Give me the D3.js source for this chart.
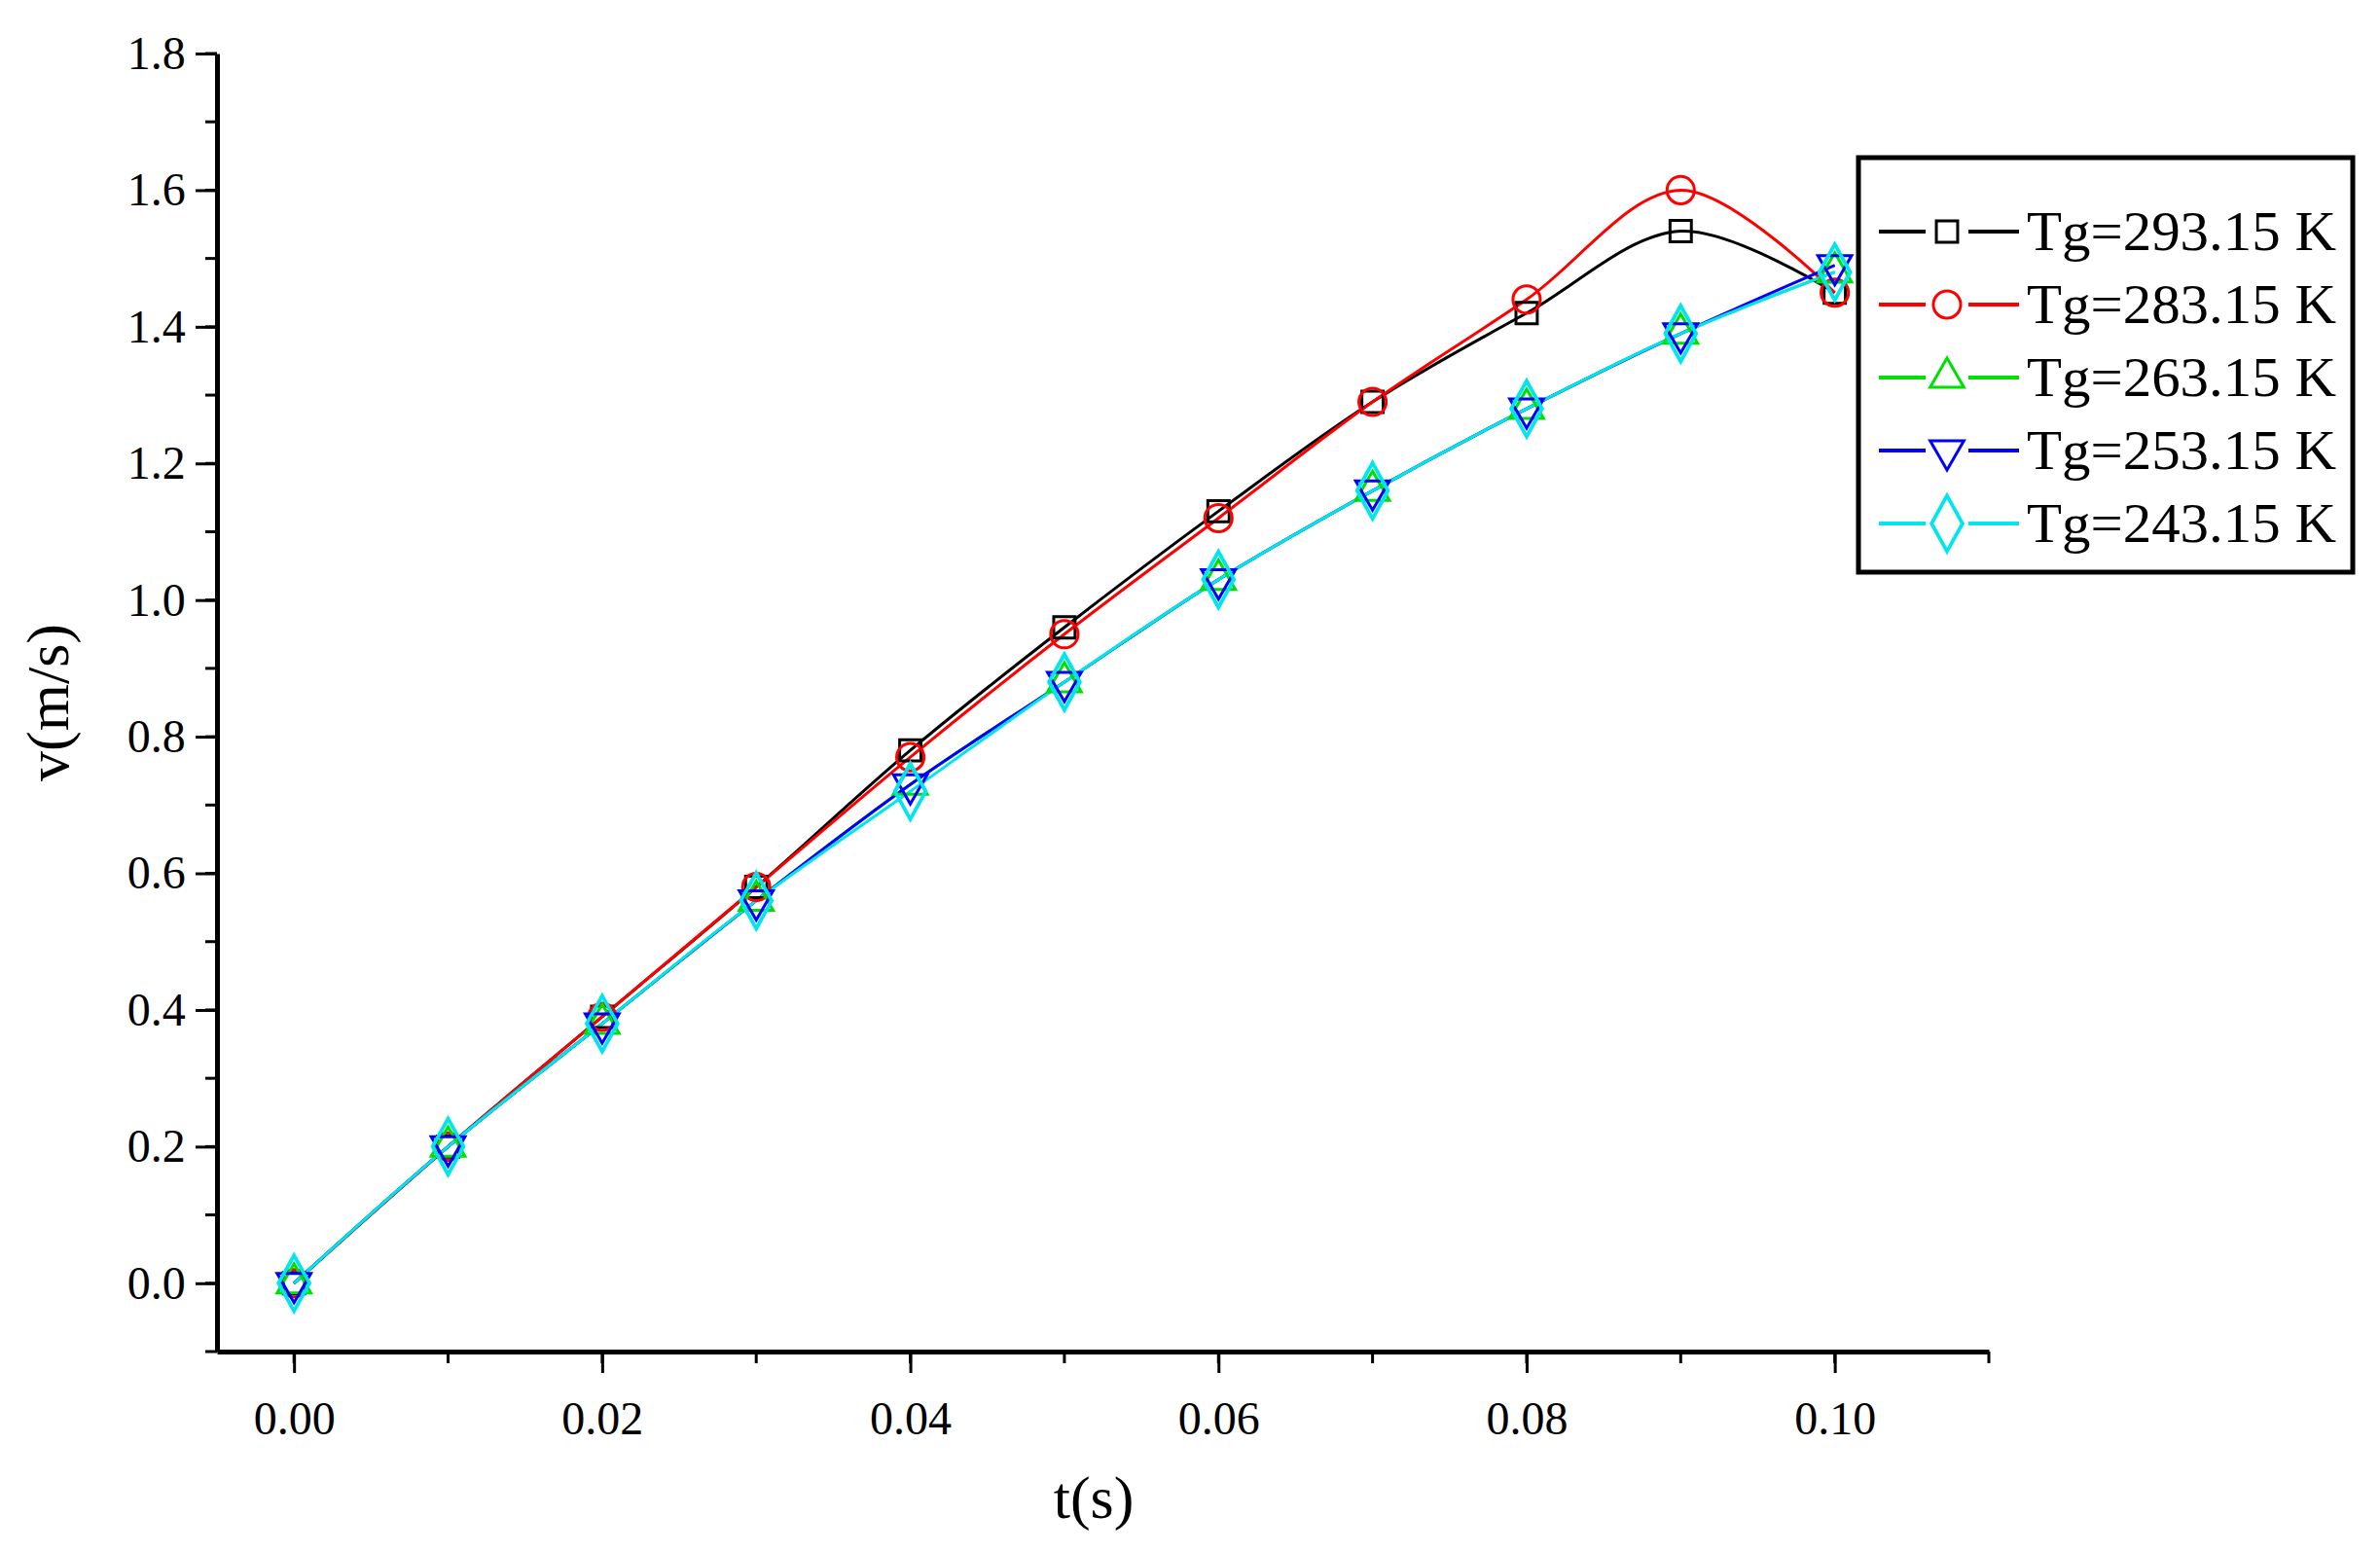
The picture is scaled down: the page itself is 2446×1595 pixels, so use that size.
<!DOCTYPE html>
<html><head><meta charset="utf-8">
<script src="https://cdn.jsdelivr.net/npm/d3@7"></script>
<style>body{margin:0;background:#fff}</style></head>
<body><script>
var width = 2446, height = 1595;
var times = [0,0.01,0.02,0.03,0.04,0.05,0.06,0.07,0.08,0.09,0.10];
var names = ["Tg=293.15 K","Tg=283.15 K","Tg=263.15 K","Tg=253.15 K","Tg=243.15 K"];
var colors = ["#000000","#ff0000","#00e000","#0000ff","#00e5ee"];
var symbols = [d3.symbolSquare, d3.symbolCircle, d3.symbolTriangle, d3.symbolTriangle, d3.symbolDiamond];
var v293 = [0,0.2,0.39,0.58,0.78,0.96,1.13,1.29,1.42,1.54,1.45];
var v283 = [0,0.2,0.39,0.58,0.77,0.95,1.12,1.29,1.44,1.60,1.45];
var v263 = [0,0.2,0.38,0.56,0.73,0.88,1.03,1.16,1.28,1.39,1.48];
var v253 = [0,0.2,0.38,0.56,0.73,0.88,1.03,1.16,1.28,1.39,1.49];
var v243 = [0,0.2,0.38,0.56,0.72,0.88,1.03,1.16,1.28,1.39,1.48];
var series = [v293, v283, v263, v253, v243];

var svg = d3.select("body").append("svg").attr("width", width).attr("height", height);
var x = d3.scaleLinear().domain([-0.005, 0.11]).range([223, 2044]);
var y = d3.scaleLinear().domain([-0.1, 1.8]).range([1389, 55]);
var font = "'Liberation Serif', 'Times New Roman', serif";

// minor ticks
var xMinor = d3.range(0, 0.1101, 0.01), yMinor = d3.range(-0.1, 1.801, 0.1);
svg.selectAll(".xm").data(xMinor).enter().append("line")
	.attr("x1", d => x(d)).attr("x2", d => x(d)).attr("y1", 1389).attr("y2", 1401)
	.attr("stroke", "#000").attr("stroke-width", 3);
svg.selectAll(".ym").data(yMinor).enter().append("line")
	.attr("y1", d => y(d)).attr("y2", d => y(d)).attr("x1", 223).attr("x2", 211)
	.attr("stroke", "#000").attr("stroke-width", 3);

var xAxis = svg.append("g").attr("transform", "translate(0,1389)")
	.call(d3.axisBottom(x).tickValues(d3.range(0, 0.1001, 0.02)).tickFormat(d3.format(".2f")).tickSize(22).tickSizeOuter(0));
var yAxis = svg.append("g").attr("transform", "translate(223,0)")
	.call(d3.axisLeft(y).tickValues(d3.range(0, 1.801, 0.2)).tickFormat(d3.format(".1f")).tickSize(22).tickSizeOuter(0));
[xAxis, yAxis].forEach(function(a) {
	a.select(".domain").attr("stroke-width", 5);
	a.selectAll(".tick line").attr("stroke-width", 3);
	a.selectAll("text").attr("font-family", font).attr("font-size", 48).attr("fill", "#000");
});
xAxis.selectAll("text").attr("dy", "1.25em");
yAxis.selectAll("text").attr("dx", "-0.15em");

svg.append("text").attr("x", 1124).attr("y", 1560).attr("text-anchor", "middle")
	.attr("font-family", font).attr("font-size", 62).text("t(s)");
svg.append("text").attr("transform", "translate(70,722) rotate(-90)").attr("text-anchor", "middle")
	.attr("font-family", font).attr("font-size", 62).text("v(m/s)");

var line = d3.line().x((d, i) => x(times[i])).y(d => y(d)).curve(d3.curveCatmullRom);
series.forEach(function(s, k) {
	svg.append("path").attr("d", line(s)).attr("fill", "none")
		.attr("stroke", colors[k]).attr("stroke-width", 3);
});
function marker(g, k, cx, cy) {
	var rot = k == 3 ? 180 : 0;
	var size = [480, 620, 520, 520, 560][k];
	g.append("path").attr("d", d3.symbol().type(symbols[k]).size(size)())
		.attr("transform", "translate(" + cx + "," + cy + ") rotate(" + rot + ")" + (k == 4 ? " scale(1.25,1.3)" : ""))
		.attr("fill", "none").attr("stroke", colors[k]).attr("stroke-width", 3);
}
series.forEach(function(s, k) {
	s.forEach(function(d, i) { marker(svg, k, x(times[i]), y(d)); });
});

// legend
var lg = svg.append("g");
lg.append("rect").attr("x", 1910).attr("y", 162).attr("width", 508).attr("height", 426)
	.attr("fill", "#fff").attr("stroke", "#000").attr("stroke-width", 5);
names.forEach(function(n, k) {
	var ly = 238 + k * 75;
	lg.append("line").attr("x1", 1931).attr("x2", 2075).attr("y1", ly).attr("y2", ly)
		.attr("stroke", colors[k]).attr("stroke-width", 4);
	lg.append("rect").attr("x", 2001 - 22).attr("y", ly - 22).attr("width", 44).attr("height", 44).attr("fill", "#fff");
	marker(lg, k, 2001, ly);
	lg.append("text").attr("x", 2083).attr("y", ly + 19).attr("font-family", font)
		.attr("font-size", 58).attr("textLength", 318).attr("lengthAdjust", "spacingAndGlyphs").text(n);
});
</script></body></html>
